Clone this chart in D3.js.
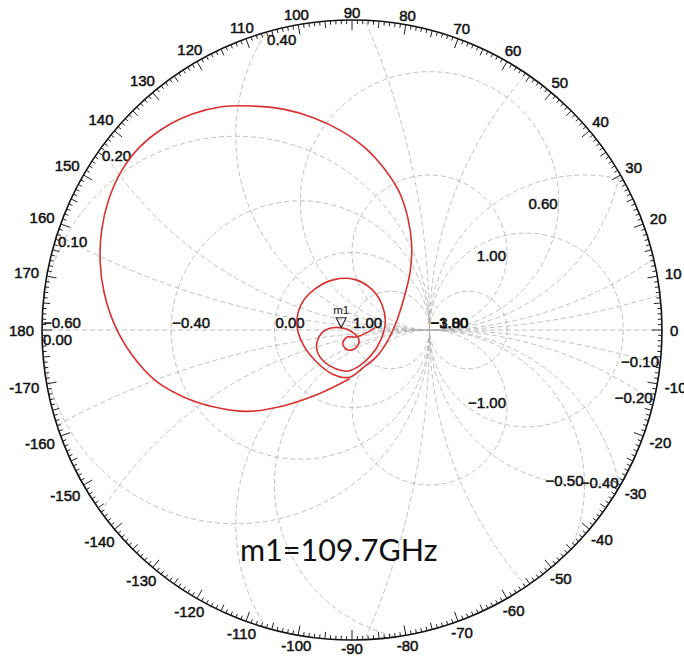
<!DOCTYPE html>
<html>
<head>
<meta charset="utf-8">
<script src="https://cdn.jsdelivr.net/npm/d3@7"></script>
<style>
  body { margin: 0; background: #fff; }
  svg { display: block; }
</style>
</head>
<body>
<svg id="chart" width="684" height="656"></svg>
<script>
// Extended (compressed) Smith chart: reflection coefficient plane out to |Γ| = 4
const gammaMax = 4;

// constant-resistance circles of the grid, and the ones that carry a value label
const resistanceCircles = [1, 0, -0.4, -0.6, -0.9, -1.2, -1.5, -1.8, -3];
const resistanceLabelled = [1, 0, -0.4, -0.6, -1.8, -3];

// constant-reactance arcs (0 is the real axis)
const reactanceArcs = [0, 0.1, 0.2, 0.4, 0.6, 1, -0.1, -0.2, -0.4, -0.5, -1];

// angle scale round the rim, degrees
const angleTicks = [0, 10, 20, 30, 40, 50, 60, 70, 80, 90, 100, 110, 120, 130, 140, 150, 160, 170, 180,
  -10, -20, -30, -40, -50, -60, -70, -80, -90, -100, -110, -120, -130, -140, -150, -160, -170];

// measured S11 trace (real and imaginary part of Γ)
const traceRe = [-0.03, -0.44, -0.89, -1.35, -1.79, -2.18, -2.54, -2.84, -3.06, -3.20, -3.25, -3.23,
  -3.14, -2.97, -2.74, -2.41, -2.05, -1.68, -1.29, -0.89, -0.50, -0.14, 0.17, 0.41, 0.61, 0.72, 0.77,
  0.75, 0.67, 0.57, 0.46, 0.32, 0.14, -0.03,
  -0.25, -0.46, -0.63, -0.71, -0.66, -0.49, -0.23, 0.04, 0.26, 0.39, 0.43, 0.37, 0.26, 0.10, -0.05,
  -0.21, -0.36, -0.45, -0.44, -0.34, -0.14, 0.01, 0.09, 0.05, -0.05, -0.12, -0.06, 0.05, 0.18, 0.30];
const traceIm = [-0.63, -0.83, -0.98, -1.05, -0.99, -0.86, -0.65, -0.32, 0.06, 0.49, 0.88, 1.29,
  1.68, 2.06, 2.36, 2.62, 2.79, 2.88, 2.89, 2.85, 2.74, 2.57, 2.35, 2.09, 1.78, 1.45, 1.10,
  0.75, 0.41, 0.10, -0.14, -0.34, -0.49, -0.61,
  -0.57, -0.41, -0.19, 0.06, 0.32, 0.52, 0.65, 0.65, 0.52, 0.32, 0.10, -0.13, -0.31, -0.46, -0.53,
  -0.50, -0.41, -0.27, -0.12, 0.00, 0.03, -0.03, -0.13, -0.23, -0.26, -0.18, -0.09, -0.09, -0.04, 0.03];

// marker
const markerName = "m1";
const markerRe = -0.14, markerIm = 0.03;
const markerFreq = "109.7GHz";

const cx = 352, cy = 330, R = 310;
const svg = d3.select("#chart");
const sx = d3.scaleLinear().domain([-gammaMax, gammaMax]).range([cx - R, cx + R]);
const sy = d3.scaleLinear().domain([-gammaMax, gammaMax]).range([cy + R, cy - R]);
const unit = sx(1) - sx(0);
const fmt = d3.format(".2f");
const labelFont = "'Liberation Sans', Arial, sans-serif";

svg.append("defs").append("clipPath").attr("id", "rim")
  .append("circle").attr("cx", sx(0)).attr("cy", sy(0)).attr("r", sx(gammaMax) - sx(0));

// ---- grid ----
const grid = svg.append("g")
  .attr("clip-path", "url(#rim)")
  .attr("fill", "none")
  .attr("stroke", "#b0b0b0")
  .attr("stroke-width", 0.8)
  .attr("stroke-dasharray", "5,3");

grid.selectAll("circle.res").data(resistanceCircles).join("circle")
  .attr("class", "res")
  .attr("cx", r => sx(r / (1 + r)))
  .attr("cy", sy(0))
  .attr("r", r => unit / Math.abs(1 + r));

grid.selectAll("circle.reac").data(reactanceArcs.filter(x => x !== 0)).join("circle")
  .attr("class", "reac")
  .attr("cx", sx(1))
  .attr("cy", x => sy(1 / x))
  .attr("r", x => unit / Math.abs(x));

grid.append("line")
  .attr("x1", sx(-gammaMax)).attr("x2", sx(gammaMax))
  .attr("y1", sy(0)).attr("y2", sy(0));

// ---- grid labels ----
const labels = svg.append("g")
  .attr("font-family", labelFont)
  .attr("font-size", 15)
  .attr("fill", "#111")
  .attr("stroke", "#111")
  .attr("stroke-width", 0.5)
  .attr("dominant-baseline", "central");

// resistance labels sit just right of each circle's left crossing of the real axis
labels.selectAll("text.rl").data(resistanceLabelled).join("text")
  .attr("class", "rl")
  .attr("x", r => {
    const left = r > -1 ? (r - 1) / (r + 1) : 1;
    return sx(Math.max(left, -gammaMax)) + 1;
  })
  .attr("y", sy(0) - 8)
  .attr("text-anchor", "start")
  .text(r => fmt(r));

// crossings of a grid circle with the rim
function rimHits(cu, cv, rho) {
  const G = gammaMax;
  const d = Math.hypot(cu, cv);
  const a = (G * G - rho * rho + d * d) / (2 * d);
  const h2 = G * G - a * a;
  if (h2 <= 0) return [];
  const h = Math.sqrt(h2);
  const px = a * cu / d, py = a * cv / d;
  return [[px - h * cv / d, py + h * cu / d], [px + h * cv / d, py - h * cu / d]];
}

function reactanceLabel(x) {
  if (x === 0) return { p: [-gammaMax, 0], anchor: "start", dy: 9 };
  const cu = 1, cv = 1 / x, rho = 1 / Math.abs(x);
  const right = [cu + rho, cv];
  const hits = rimHits(cu, cv, rho);
  if (x > 0) {
    if (hits.length) {
      const p = hits[0][0] < hits[1][0] ? hits[0] : hits[1];
      return { p, anchor: "start", dy: 7 };
    }
    return { p: right, anchor: "end", dy: 3 };
  }
  if (Math.hypot(right[0], right[1]) < gammaMax) return { p: right, anchor: "end", dy: -5 };
  const p = hits[0][0] > hits[1][0] ? hits[0] : hits[1];
  return { p, anchor: "end", dy: -4 };
}

labels.selectAll("text.xl").data(reactanceArcs).join("text")
  .attr("class", "xl")
  .each(function (x) {
    const L = reactanceLabel(x);
    d3.select(this)
      .attr("x", sx(L.p[0]) + (L.anchor === "start" ? 1 : -1))
      .attr("y", sy(L.p[1]) + L.dy)
      .attr("text-anchor", L.anchor);
  })
  .text(x => fmt(x));

// ---- rim and angle scale ----
svg.append("circle")
  .attr("cx", sx(0)).attr("cy", sy(0)).attr("r", sx(gammaMax) - sx(0))
  .attr("fill", "none").attr("stroke", "#111").attr("stroke-width", 1.6);

const rad = deg => deg * Math.PI / 180;
svg.append("g").attr("stroke", "#222").attr("stroke-width", 1)
  .selectAll("line").data(d3.range(-179, 181)).join("line")
  .each(function (deg) {
    const len = deg % 10 === 0 ? 10 : deg % 5 === 0 ? 7 : 4;
    const c = Math.cos(rad(deg)), s = Math.sin(rad(deg));
    d3.select(this)
      .attr("x1", cx + R * c).attr("y1", cy - R * s)
      .attr("x2", cx + (R - len) * c).attr("y2", cy - (R - len) * s);
  });

const angleG = svg.append("g")
  .attr("font-family", labelFont)
  .attr("font-size", 15)
  .attr("fill", "#111")
  .attr("stroke", "#111")
  .attr("stroke-width", 0.5)
  .attr("text-anchor", "middle")
  .attr("dominant-baseline", "central");

angleG.selectAll("text").data(angleTicks).join("text")
  .text(d => String(d))
  .each(function (deg) {
    const w = this.getComputedTextLength();
    const c = Math.cos(rad(deg)), s = Math.sin(rad(deg));
    const dist = R + 8 + (w / 2) * Math.abs(c);
    d3.select(this).attr("x", cx + dist * c).attr("y", cy - dist * s);
  });

// ---- trace ----
const trace = traceRe.map((re, i) => [re, traceIm[i]]);
svg.append("path")
  .datum(trace)
  .attr("fill", "none")
  .attr("stroke", "#d93030")
  .attr("stroke-width", 1.6)
  .attr("d", d3.line().x(d => sx(d[0])).y(d => sy(d[1])).curve(d3.curveCatmullRom.alpha(0.5)));

// ---- marker ----
const mx = sx(markerRe), my = sy(markerIm);
svg.append("path")
  .attr("d", `M${mx},${my} L${mx - 5},${my - 10} L${mx + 5},${my - 10} Z`)
  .attr("fill", "none").attr("stroke", "#222").attr("stroke-width", 1.1);
svg.append("text")
  .attr("x", mx).attr("y", my - 14)
  .attr("text-anchor", "middle")
  .attr("font-family", labelFont).attr("font-size", 11.5).attr("fill", "#111")
  .text(markerName);

svg.append("text")
  .attr("x", 240).attr("y", 561)
  .attr("font-family", "Lato, 'Open Sans', sans-serif")
  .attr("font-size", 30.5)
  .attr("fill", "#111")
  .text(`${markerName}=${markerFreq}`);
</script>
</body>
</html>
